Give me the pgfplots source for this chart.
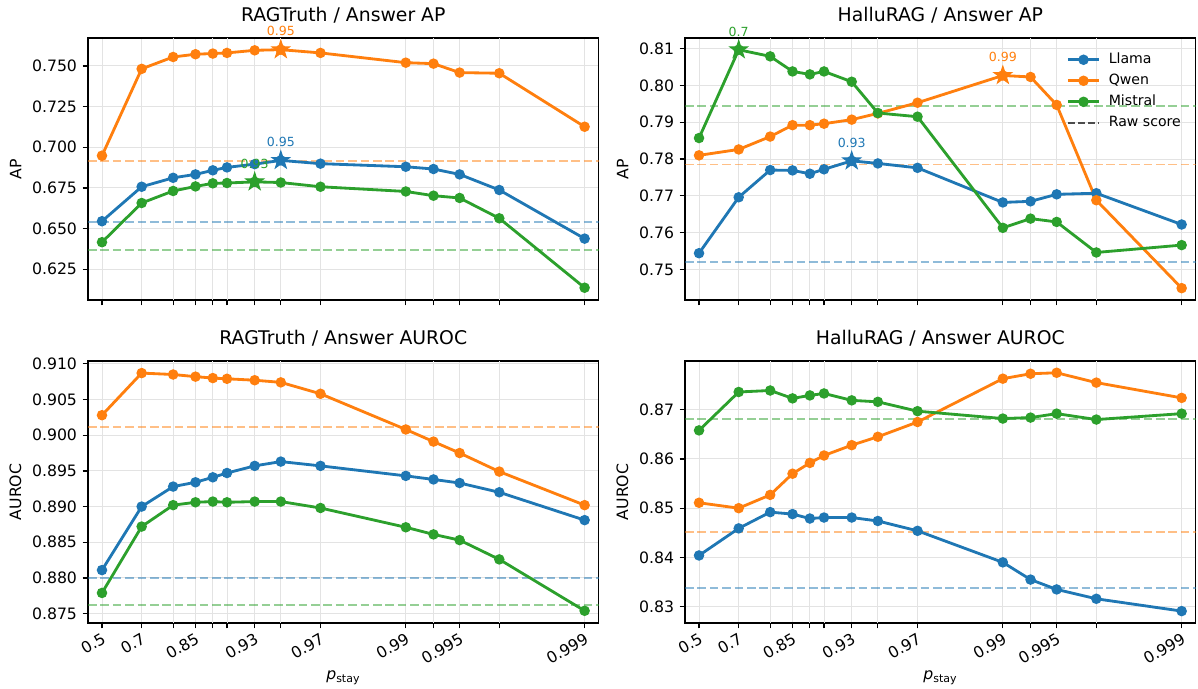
\documentclass[border=0pt]{standalone}
\usepackage{pgfplots}
\pgfplotsset{compat=1.18}
\usepackage{pgfplotstable}
\usepackage{fontspec}
\setmainfont{DejaVu Sans}
\definecolor{tabblue}{HTML}{1F77B4}
\definecolor{taborange}{HTML}{FF7F0E}
\definecolor{tabgreen}{HTML}{2CA02C}

\pgfdeclareplotmark{fstar}{%
  \pgfpathmoveto{\pgfpointpolar{90}{\pgfplotmarksize}}%
  \pgfpathlineto{\pgfpointpolar{126}{0.382\pgfplotmarksize}}%
  \pgfpathlineto{\pgfpointpolar{162}{\pgfplotmarksize}}%
  \pgfpathlineto{\pgfpointpolar{198}{0.382\pgfplotmarksize}}%
  \pgfpathlineto{\pgfpointpolar{234}{\pgfplotmarksize}}%
  \pgfpathlineto{\pgfpointpolar{270}{0.382\pgfplotmarksize}}%
  \pgfpathlineto{\pgfpointpolar{306}{\pgfplotmarksize}}%
  \pgfpathlineto{\pgfpointpolar{342}{0.382\pgfplotmarksize}}%
  \pgfpathlineto{\pgfpointpolar{18}{\pgfplotmarksize}}%
  \pgfpathlineto{\pgfpointpolar{54}{0.382\pgfplotmarksize}}%
  \pgfpathclose
  \pgfusepathqfillstroke
}

% x = -ln(1 - p_stay)
\pgfplotstableread{
x      llama  qwen   mistral
0.6931 0.6545 0.6948 0.6416
1.2040 0.6757 0.7482 0.6657
1.6094 0.6812 0.7555 0.6731
1.8971 0.6833 0.7572 0.6759
2.1203 0.6858 0.7576 0.6778
2.3026 0.6876 0.7580 0.6780
2.6593 0.6896 0.7596 0.6787
2.9957 0.6919 0.7600 0.6783
3.5066 0.6899 0.7580 0.6757
4.6052 0.6880 0.7520 0.6728
4.9618 0.6866 0.7514 0.6702
5.2983 0.6833 0.7459 0.6688
5.8091 0.6737 0.7455 0.6563
6.9078 0.6438 0.7126 0.6136
}\tabTL
\pgfplotstableread{
x      llama  qwen   mistral
0.6931 0.7544 0.7810 0.7857
1.2040 0.7696 0.7826 0.8097
1.6094 0.7770 0.7861 0.8079
1.8971 0.7769 0.7892 0.8038
2.1203 0.7760 0.7892 0.8030
2.3026 0.7772 0.7896 0.8038
2.6593 0.7795 0.7907 0.8010
2.9957 0.7788 0.7924 0.7925
3.5066 0.7776 0.7953 0.7915
4.6052 0.7682 0.8027 0.7613
4.9618 0.7685 0.8023 0.7638
5.2983 0.7704 0.7947 0.7629
5.8091 0.7707 0.7688 0.7546
6.9078 0.7622 0.7449 0.7566
}\tabTR
\pgfplotstableread{
x      llama  qwen   mistral
0.6931 0.8811 0.9028 0.8779
1.2040 0.8900 0.9087 0.8872
1.6094 0.8928 0.9085 0.8902
1.8971 0.8934 0.9082 0.8906
2.1203 0.8941 0.9080 0.8907
2.3026 0.8947 0.9079 0.8906
2.6593 0.8957 0.9077 0.8907
2.9957 0.8963 0.9074 0.8907
3.5066 0.8957 0.9058 0.8898
4.6052 0.8943 0.9008 0.8871
4.9618 0.8938 0.8991 0.8861
5.2983 0.8933 0.8975 0.8853
5.8091 0.8920 0.8949 0.8826
6.9078 0.8881 0.8902 0.8754
}\tabBL
\pgfplotstableread{
x      llama  qwen   mistral
0.6931 0.8404 0.8511 0.8658
1.2040 0.8459 0.8500 0.8736
1.6094 0.8492 0.8527 0.8739
1.8971 0.8488 0.8570 0.8723
2.1203 0.8479 0.8592 0.8729
2.3026 0.8481 0.8607 0.8733
2.6593 0.8481 0.8628 0.8719
2.9957 0.8474 0.8645 0.8716
3.5066 0.8454 0.8675 0.8697
4.6052 0.8390 0.8763 0.8682
4.9618 0.8355 0.8773 0.8684
5.2983 0.8335 0.8775 0.8692
5.8091 0.8316 0.8755 0.8680
6.9078 0.8291 0.8724 0.8692
}\tabBR

\pgfplotsset{
  /pgf/number format/assume math mode=true,
  base/.style={
    scale only axis, width=325.5pt, height=167pt,
    xmin=0.513, xmax=7.088,
    xtick={0.6931,1.2040,1.8971,2.6593,3.5066,4.6052,5.2983,6.9078},
    extra x ticks={1.6094,2.1203,2.3026,2.9957,4.9618,5.8091},
    extra x tick labels={},
    extra x tick style={grid=major, xticklabel style={inner sep=0pt, rotate=0}},
    tick pos=left, tick align=outside,
    major tick length=3.5pt,
    tick style={black, line width=0.8pt},
    axis line style={line width=0.8pt},
    grid=major, grid style={black!11, line width=0.6pt},
    clip=false,
    scaled y ticks=false,
    tick label style={font=\fontsize{10}{12}\selectfont},
    label style={font=\fontsize{10}{12}\selectfont},
    title style={font=\fontsize{12}{14}\selectfont},
    yticklabel style={/pgf/number format/.cd, fixed, fixed zerofill, precision=3},
  },
  top/.style={base, xticklabels={}, xticklabel style={inner sep=0pt}},
  bot/.style={base,
    xticklabels={0.5,0.7,0.85,0.93,0.97,0.99,0.995,0.999},
    xticklabel style={rotate=30, anchor=north east, inner sep=1.5pt},
  },
  ser/.style={line width=1.8pt, mark=*, mark size=2.4pt, color=#1},
  raw/.style={forget plot, line width=1.2pt, color=#1, opacity=0.5, dash pattern=on 5.5pt off 2.4pt},
  starp/.style={forget plot, only marks, mark=fstar, mark size=6pt, line width=0.6pt, color=#1,
    every node near coord/.append style={font=\fontsize{8}{9}\selectfont, text=#1, yshift=5pt}},
}
\newcommand{\pstay}{\node[font=\fontsize{10}{12}\selectfont, anchor=center, yshift=-35pt] at (rel axis cs:0.5,0) {\textit{p}\textsubscript{stay}};}

\begin{document}
\begin{tikzpicture}
\useasboundingbox (0,0) rectangle (763.7pt,439.2pt);

% ---------- top left ----------
\begin{axis}[top, at={(56.1pt,248.0pt)}, ymin=0.6061, ymax=0.7672,
  ytick={0.625,0.650,0.675,0.700,0.725,0.750}, ylabel={AP},
  title={RAGTruth / Answer AP}]
\addplot[raw=taborange] coordinates {(0.513,0.6913) (7.088,0.6913)};
\addplot[raw=tabblue] coordinates {(0.513,0.6538) (7.088,0.6538)};
\addplot[raw=tabgreen] coordinates {(0.513,0.6367) (7.088,0.6367)};
\addplot[ser=tabblue] table[x=x,y=llama] {\tabTL};
\addplot[ser=taborange] table[x=x,y=qwen] {\tabTL};
\addplot[ser=tabgreen] table[x=x,y=mistral] {\tabTL};
\addplot[starp=tabblue, nodes near coords={0.95}] coordinates {(2.9957,0.6919)};
\addplot[starp=taborange, nodes near coords={0.95}] coordinates {(2.9957,0.7600)};
\addplot[starp=tabgreen, nodes near coords={0.93}] coordinates {(2.6593,0.6787)};
\end{axis}

% ---------- top right ----------
\begin{axis}[top, at={(436.7pt,248.0pt)}, ymin=0.7417, ymax=0.8129,
  ytick={0.75,0.76,0.77,0.78,0.79,0.80,0.81}, ylabel={AP},
  yticklabel style={/pgf/number format/.cd, fixed, fixed zerofill, precision=2},
  title={HalluRAG / Answer AP},
  legend style={at={(1,1)}, anchor=north east, xshift=-5pt, yshift=-5pt, draw=none, fill=none,
    font=\fontsize{9}{11}\selectfont, row sep=0pt, column sep=3pt, inner sep=2pt,
    nodes={inner sep=2.2pt, text height=7pt, text depth=2pt}},
  legend cell align=left,
  legend image code/.code={\draw[#1, mark repeat=2, mark phase=2] plot coordinates {(0pt,0pt) (10pt,0pt) (20pt,0pt)};}]
\addplot[raw=taborange] coordinates {(0.513,0.7785) (7.088,0.7785)};
\addplot[raw=tabblue] coordinates {(0.513,0.7521) (7.088,0.7521)};
\addplot[raw=tabgreen] coordinates {(0.513,0.7943) (7.088,0.7943)};
\addplot[ser=tabblue] table[x=x,y=llama] {\tabTR};
\addlegendentry{Llama}
\addplot[ser=taborange] table[x=x,y=qwen] {\tabTR};
\addlegendentry{Qwen}
\addplot[ser=tabgreen] table[x=x,y=mistral] {\tabTR};
\addlegendentry{Mistral}
\addlegendimage{black!70, line width=1.2pt, mark=none, dash pattern=on 4.5pt off 2pt}
\addlegendentry{Raw score}
\addplot[starp=tabgreen, nodes near coords={0.7}] coordinates {(1.2040,0.8097)};
\addplot[starp=taborange, nodes near coords={0.99}] coordinates {(4.6052,0.8027)};
\addplot[starp=tabblue, nodes near coords={0.93}] coordinates {(2.6593,0.7795)};
\end{axis}

% ---------- bottom left ----------
\begin{axis}[bot, at={(56.1pt,42.1pt)}, ymin=0.8737, ymax=0.9104,
  ytick={0.875,0.880,0.885,0.890,0.895,0.900,0.905,0.910}, ylabel={AUROC},
  title={RAGTruth / Answer AUROC}]
\addplot[raw=taborange] coordinates {(0.513,0.9011) (7.088,0.9011)};
\addplot[raw=tabblue] coordinates {(0.513,0.8800) (7.088,0.8800)};
\addplot[raw=tabgreen] coordinates {(0.513,0.8762) (7.088,0.8762)};
\addplot[ser=tabblue] table[x=x,y=llama] {\tabBL};
\addplot[ser=taborange] table[x=x,y=qwen] {\tabBL};
\addplot[ser=tabgreen] table[x=x,y=mistral] {\tabBL};
\pstay
\end{axis}

% ---------- bottom right ----------
\begin{axis}[bot, at={(436.7pt,42.1pt)}, ymin=0.8267, ymax=0.8799,
  ytick={0.83,0.84,0.85,0.86,0.87}, ylabel={AUROC},
  yticklabel style={/pgf/number format/.cd, fixed, fixed zerofill, precision=2},
  title={HalluRAG / Answer AUROC}]
\addplot[raw=taborange] coordinates {(0.513,0.8451) (7.088,0.8451)};
\addplot[raw=tabblue] coordinates {(0.513,0.8338) (7.088,0.8338)};
\addplot[raw=tabgreen] coordinates {(0.513,0.8682) (7.088,0.8682)};
\addplot[ser=tabblue] table[x=x,y=llama] {\tabBR};
\addplot[ser=taborange] table[x=x,y=qwen] {\tabBR};
\addplot[ser=tabgreen] table[x=x,y=mistral] {\tabBR};
\pstay
\end{axis}
\end{tikzpicture}
\end{document}
